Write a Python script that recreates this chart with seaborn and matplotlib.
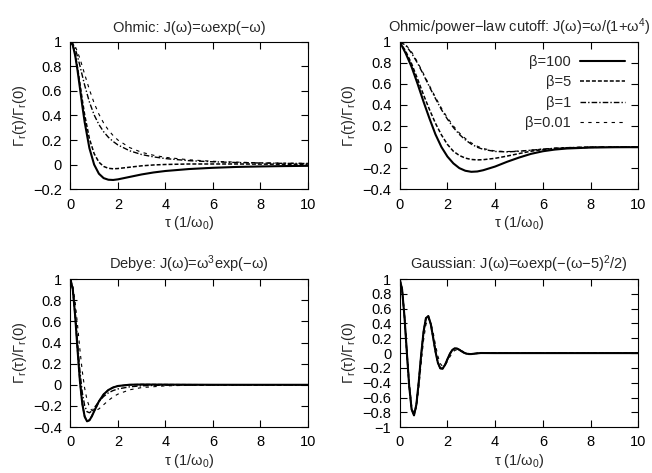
import matplotlib
matplotlib.use("Agg")
import matplotlib.pyplot as plt
from matplotlib.ticker import MultipleLocator, FuncFormatter
import seaborn as sns

# --- data (tau in units of 1/omega_0) ---
betas = ["β=100", "β=5", "β=1", "β=0.01"]

# Ohmic: J(w)=w exp(-w)
tau_ohmic = [0, 0.1, 0.2, 0.3, 0.4, 0.5, 0.6, 0.8, 1.0, 1.2, 1.4, 1.6, 1.8, 2.0,
             2.5, 3, 3.5, 4, 5, 6, 7, 8, 9, 10]
ohmic_b100 = [1, 0.970, 0.888, 0.766, 0.624, 0.480, 0.346, 0.134, 0.0, -0.074, -0.110,
              -0.123, -0.125, -0.120, -0.100, -0.080, -0.064, -0.052, -0.036, -0.026,
              -0.019, -0.015, -0.012, -0.010]
ohmic_b5 = [1, 0.973, 0.898, 0.787, 0.659, 0.527, 0.405, 0.211, 0.089, 0.020, -0.015,
            -0.030, -0.034, -0.032, -0.021, -0.010, -0.003, 0.001, 0.005, 0.005,
            0.005, 0.004, 0.003, 0.003]
ohmic_b1 = [1, 0.985, 0.943, 0.879, 0.804, 0.724, 0.646, 0.509, 0.404, 0.326, 0.267,
            0.222, 0.188, 0.160, 0.112, 0.082, 0.063, 0.049, 0.032, 0.023,
            0.017, 0.013, 0.010, 0.009]
ohmic_b001 = [1, 0.990, 0.962, 0.917, 0.862, 0.800, 0.735, 0.610, 0.500, 0.410, 0.338,
              0.281, 0.236, 0.200, 0.138, 0.100, 0.076, 0.059, 0.039, 0.027,
              0.020, 0.015, 0.012, 0.010]

# Ohmic / power-law cutoff: J(w)=w/(1+w^4)
tau_power = [0, 0.25, 0.5, 0.75, 1.0, 1.25, 1.5, 1.75, 2.0, 2.25, 2.5, 2.75, 3.0, 3.25,
             3.5, 4.0, 4.5, 5.0, 5.5, 6.0, 6.5, 7, 8, 9, 10]
power_b100 = [1, 0.89, 0.76, 0.60, 0.43, 0.27, 0.12, 0.0, -0.09, -0.155, -0.20, -0.225,
              -0.235, -0.232, -0.22, -0.185, -0.14, -0.10, -0.065, -0.04, -0.024,
              -0.014, -0.005, -0.002, -0.001]
power_b5 = [1, 0.91, 0.79, 0.645, 0.495, 0.355, 0.225, 0.115, 0.025, -0.04, -0.08,
            -0.105, -0.118, -0.122, -0.12, -0.107, -0.086, -0.062, -0.04, -0.024,
            -0.014, -0.008, -0.003, -0.001, 0.0]
power_b1 = [1, 0.965, 0.89, 0.795, 0.685, 0.57, 0.46, 0.355, 0.265, 0.185, 0.12, 0.068,
            0.028, -0.002, -0.022, -0.042, -0.046, -0.04, -0.03, -0.02, -0.012,
            -0.006, -0.001, 0.0, 0.0]
power_b001 = [1, 0.972, 0.902, 0.805, 0.695, 0.582, 0.472, 0.369, 0.278, 0.200, 0.134,
              0.081, 0.040, 0.008, -0.014, -0.038, -0.043, -0.038, -0.029, -0.019,
              -0.011, -0.005, 0.001, 0.002, 0.001]

# Debye: J(w)=w^3 exp(-w)
tau_debye = [0, 0.1, 0.2, 0.3, 0.4, 0.5, 0.6, 0.7, 0.8, 0.9, 1.0, 1.2, 1.4, 1.6, 1.8,
             2.0, 2.5, 3, 4, 5, 6, 8, 10]
debye_b100 = [1, 0.903, 0.651, 0.332, 0.036, -0.179, -0.301, -0.345, -0.336, -0.299,
              -0.250, -0.157, -0.090, -0.049, -0.025, -0.011, 0.001, 0.003, 0.002,
              0.001, 0.0005, 0.0002, 0.0001]
debye_b5 = [1, 0.904, 0.652, 0.334, 0.039, -0.176, -0.298, -0.342, -0.334, -0.297,
            -0.249, -0.157, -0.091, -0.049, -0.025, -0.012, 0.0005, 0.0026, 0.0018,
            0.001, 0.0005, 0.0002, 0.0001]
debye_b1 = [1, 0.914, 0.689, 0.402, 0.131, -0.073, -0.197, -0.254, -0.264, -0.248,
            -0.219, -0.158, -0.110, -0.076, -0.054, -0.039, -0.019, -0.009, -0.003,
            -0.001, -0.0005, -0.0002, 0.0]
debye_b001 = [1, 0.941, 0.782, 0.564, 0.333, 0.128, -0.032, -0.142, -0.209, -0.241,
              -0.250, -0.228, -0.188, -0.148, -0.114, -0.088, -0.047, -0.026, -0.010,
              -0.004, -0.002, -0.0007, -0.0003]

# Gaussian: J(w)=w exp(-(w-5)^2/2)
tau_gauss = [0, 0.1, 0.2, 0.3, 0.4, 0.5, 0.6, 0.7, 0.8, 0.9, 1.0, 1.1, 1.2, 1.3, 1.4,
             1.5, 1.6, 1.7, 1.8, 1.9, 2.0, 2.1, 2.2, 2.3, 2.4, 2.5, 2.6, 2.7, 2.8, 2.9,
             3.0, 3.2, 3.4, 4, 5, 6, 8, 10]
gauss_b100 = [1, 0.864, 0.497, 0.010, -0.451, -0.760, -0.841, -0.695, -0.387, -0.023,
              0.288, 0.472, 0.500, 0.396, 0.214, 0.021, -0.129, -0.206, -0.210, -0.159,
              -0.084, -0.012, 0.040, 0.063, 0.062, 0.045, 0.023, 0.004, -0.008, -0.013,
              -0.013, -0.005, 0.001, 0, 0, 0, 0, 0]
gauss_b5 = [1, 0.864, 0.497, 0.010, -0.451, -0.760, -0.841, -0.695, -0.387, -0.023,
            0.288, 0.472, 0.500, 0.396, 0.214, 0.021, -0.129, -0.206, -0.210, -0.159,
            -0.084, -0.012, 0.040, 0.063, 0.062, 0.045, 0.023, 0.004, -0.008, -0.013,
            -0.013, -0.005, 0.001, 0, 0, 0, 0, 0]
gauss_b1 = [1, 0.865, 0.499, 0.013, -0.448, -0.757, -0.839, -0.695, -0.389, -0.027,
            0.284, 0.469, 0.498, 0.396, 0.216, 0.024, -0.126, -0.204, -0.209, -0.159,
            -0.085, -0.014, 0.038, 0.062, 0.062, 0.045, 0.024, 0.005, -0.007, -0.012,
            -0.013, -0.005, 0.001, 0, 0, 0, 0, 0]
gauss_b001 = [1, 0.873, 0.530, 0.068, -0.384, -0.707, -0.827, -0.733, -0.475, -0.141,
              0.172, 0.387, 0.467, 0.420, 0.283, 0.113, -0.040, -0.142, -0.180, -0.164,
              -0.114, -0.052, 0.000, 0.034, 0.047, 0.044, 0.031, 0.016, 0.003, -0.005,
              -0.008, -0.006, -0.001, 0, 0, 0, 0, 0]

# line style of each beta (gnuplot-like)
line_styles = [
    dict(linewidth=1.5, linestyle="-"),
    dict(linewidth=1.1, linestyle=(0, (2.6, 1.3))),
    dict(linewidth=1.0, linestyle=(0, (4, 1.5, 1, 1.5))),
    dict(linewidth=0.8, linestyle=(0, (3, 4))),
]

panels = [
    ("Ohmic: J(ω)=ωexp(−ω)", tau_ohmic,
     [ohmic_b100, ohmic_b5, ohmic_b1, ohmic_b001], (-0.2, 1), 0.2),
    ("Ohmic/power−law cutoff: J(ω)=ω/(1+ω$^{4}$)", tau_power,
     [power_b100, power_b5, power_b1, power_b001], (-0.4, 1), 0.2),
    ("Debye: J(ω)=ω$^{3}$exp(−ω)", tau_debye,
     [debye_b100, debye_b5, debye_b1, debye_b001], (-0.4, 1), 0.2),
    ("Gaussian: J(ω)=ωexp(−(ω−5)$^{2}$/2)", tau_gauss,
     [gauss_b100, gauss_b5, gauss_b1, gauss_b001], (-1, 1), 0.2),
]

# axes boxes in figure fractions (left, bottom, width, height)
boxes = [
    (0.108, 0.600, 0.364, 0.312),
    (0.613, 0.600, 0.366, 0.312),
    (0.108, 0.097, 0.364, 0.313),
    (0.613, 0.097, 0.366, 0.313),
]

sns.set_style("ticks")
plt.rcParams["font.family"] = ["Liberation Sans", "DejaVu Sans"]
plt.rcParams["mathtext.fontset"] = "custom"
plt.rcParams["mathtext.rm"] = "Liberation Sans"
plt.rcParams["mathtext.it"] = "Liberation Sans"
plt.rcParams["mathtext.default"] = "rm"

FS = 10.5


def fmt(v, pos):
    v = round(v, 6)
    if v == 0:
        return "0"
    return ("%g" % v).replace("-", "−")


fig = plt.figure(figsize=(6.52, 4.73), dpi=100)

for i, (title, tau, series, ylim, ystep) in enumerate(panels):
    ax = fig.add_axes(boxes[i])
    for vals, st in zip(series, line_styles):
        sns.lineplot(x=tau, y=vals, ax=ax, color="black", sort=False,
                     estimator=None, errorbar=None, **st)
    ax.set_xlim(0, 10)
    ax.set_ylim(*ylim)
    ax.xaxis.set_major_locator(MultipleLocator(2))
    ax.yaxis.set_major_locator(MultipleLocator(ystep))
    ax.xaxis.set_major_formatter(FuncFormatter(fmt))
    ax.yaxis.set_major_formatter(FuncFormatter(fmt))
    ax.tick_params(direction="in", length=5, width=0.8, top=True, right=True,
                   pad=6, labelsize=FS, colors="black")
    for sp in ax.spines.values():
        sp.set_visible(True)
        sp.set_linewidth(0.8)
        sp.set_color("black")
    ax.set_title(title, fontsize=FS, pad=7)
    ax.set_xlabel("τ (1/ω$_{0}$)", fontsize=FS, labelpad=2)
    ax.set_ylabel("Γ$_{r}$(τ)/Γ$_{r}$(0)", fontsize=FS, labelpad=3)

    if i == 1:
        handles = ax.get_lines()[:4]
        ax.legend(handles, betas, loc="upper right", frameon=False,
                  markerfirst=False, handlelength=3.1, labelspacing=0.45,
                  fontsize=FS, borderaxespad=0.5, handletextpad=0.6)

fig.savefig("out.png", dpi=100)
